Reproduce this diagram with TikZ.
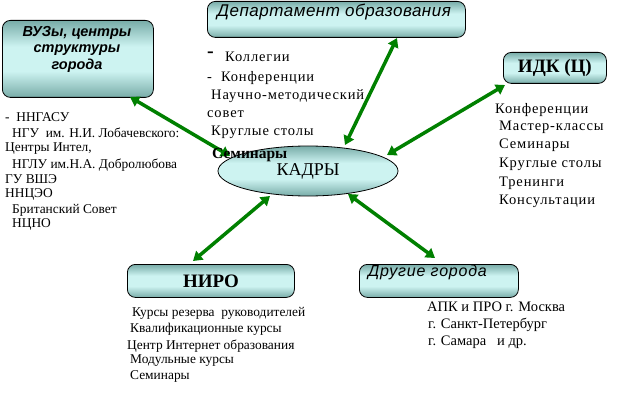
\documentclass[tikz,border=0pt]{standalone}
\usepackage{fontspec}
\setmainfont{Liberation Serif}
\newfontfamily\sansf{Liberation Sans}
\newfontfamily\spacedf[LetterSpace=6]{Liberation Serif}
\newfontfamily\sansspaced[LetterSpace=3]{Liberation Sans}
\newfontfamily\sansspacedb[LetterSpace=5]{Liberation Sans}
\usetikzlibrary{arrows.meta,shapes.geometric}
\definecolor{tealdark}{RGB}{120,172,168}
\definecolor{teallight}{RGB}{205,243,241}
\definecolor{arrgreen}{RGB}{0,128,0}
\pgfdeclareverticalshading{tealband}{100bp}{color(0bp)=(tealdark); color(25bp)=(tealdark); color(42bp)=(teallight); color(58bp)=(teallight); color(75bp)=(tealdark); color(100bp)=(tealdark)}
\tikzset{
  box/.style={draw=black, line width=0.8pt, rounded corners=8pt,
    shading=tealband, inner sep=0pt},
  conn/.style={draw=arrgreen, line width=3.5pt, {Triangle[length=9pt,width=11pt]}-{Triangle[length=9pt,width=11pt]}},
  lst/.style={anchor=west, inner sep=0pt, font=\fontsize{13.4}{14}\selectfont},
  slst/.style={anchor=west, inner sep=0pt, font=\spacedf\fontsize{14.5}{15}\selectfont},
}
\begin{document}
\begin{tikzpicture}[x=1pt,y=-1pt]
\useasboundingbox (0,0) rectangle (641,404);
\fill[white] (0,0) rectangle (641,404);

% boxes
\node[box, minimum width=151pt, minimum height=77pt, anchor=north west] (vuz) at (2,20) {};
\node[align=center, font=\sansf\bfseries\itshape\fontsize{14.5}{16.5}\selectfont] at (77,49) {ВУЗы, центры\\структуры\\города};

\node[box, minimum width=258pt, minimum height=36pt, anchor=north west] (dep) at (207,1) {};
\node[anchor=west, inner sep=0pt, font=\sansspaced\itshape\fontsize{17}{18}\selectfont] at (217,12) {Департамент образования};

\node[box, minimum width=103pt, minimum height=31pt, anchor=north west, font=\bfseries\fontsize{19}{20}\selectfont] (idk) at (503,52) {ИДК (Ц)};

\node[box, minimum width=167pt, minimum height=33pt, anchor=north west] (niro) at (127,264) {};
\node[font=\bfseries\fontsize{19}{20}\selectfont] at (211,281) {НИРО};

\node[box, minimum width=159pt, minimum height=33pt, anchor=north west] (other) at (359,264) {};
\node[anchor=west, inner sep=0pt, font=\sansspacedb\itshape\fontsize{16}{18}\selectfont] at (368,272) {Другие города};

% ellipse
\node[ellipse, draw=black, line width=0.8pt, shading=tealband,
  minimum width=180pt, minimum height=50pt, inner sep=0pt, font=\fontsize{18}{20}\selectfont] (kadry) at (308,171) {КАДРЫ};

% connectors
\coordinate (a1) at (130,97);  \coordinate (b1) at (230,156);
\coordinate (a2) at (397,38);  \coordinate (b2) at (345,145);
\coordinate (a3) at (505,85);  \coordinate (b3) at (387,155);
\coordinate (a4) at (193,261); \coordinate (b4) at (270,196);
\coordinate (a5) at (435,258); \coordinate (b5) at (348,194);
\draw[conn] (a1) -- (b1);
\draw[conn] (a2) -- (b2);
\draw[conn] (a3) -- (b3);
\draw[conn] (a4) -- (b4);
\draw[conn] (a5) -- (b5);

% Семинары over ellipse
\node[anchor=base west, inner sep=0pt, font=\bfseries\fontsize{15.5}{16}\selectfont] at (212,158) {Семинары};

% left list
\node[lst] at (5,117) {-\ \ ННГАСУ};
\node[lst] at (12,133) {НГУ\ \ им. Н.И. Лобачевского:};
\node[lst] at (5,149) {Центры Интел,};
\node[lst] at (12,165) {НГЛУ им.Н.А. Добролюбова};
\node[lst] at (5,179) {ГУ ВШЭ};
\node[lst] at (5,194) {ННЦЭО};
\node[lst] at (12,210) {Британский Совет};
\node[lst] at (12,224) {НЦНО};

% department list
\node[anchor=west, inner sep=0pt, font=\bfseries\fontsize{20}{20}\selectfont] at (207,55) {-};
\node[slst] at (225,57) {Коллегии};
\node[slst] at (207,78) {-\ \ Конференции};
\node[slst] at (211,96) {Научно-методический};
\node[slst] at (207,114) {совет};
\node[slst] at (211,132) {Круглые столы};

% idk list
\node[slst] at (495,110) {Конференции};
\node[slst] at (499,127) {Мастер-классы};
\node[slst] at (499,145) {Семинары};
\node[slst] at (499,164) {Круглые столы};
\node[slst] at (499,183) {Тренинги};
\node[slst] at (499,201) {Консультации};

% niro list
\node[lst] at (132,313) {Курсы резерва\ \ руководителей};
\node[lst] at (130,329) {Квалификационные курсы};
\node[lst] at (127,346) {Центр Интернет образования};
\node[lst] at (130,361) {Модульные курсы};
\node[lst] at (130,376) {Семинары};

% other list
\node[lst, font=\fontsize{14.5}{15}\selectfont] at (427,307) {АПК и ПРО г. Москва};
\node[lst, font=\fontsize{14.5}{15}\selectfont] at (428,325) {г. Санкт-Петербург};
\node[lst, font=\fontsize{14.5}{15}\selectfont] at (428,342) {г. Самара\ \ \ и др.};
\end{tikzpicture}
\end{document}
